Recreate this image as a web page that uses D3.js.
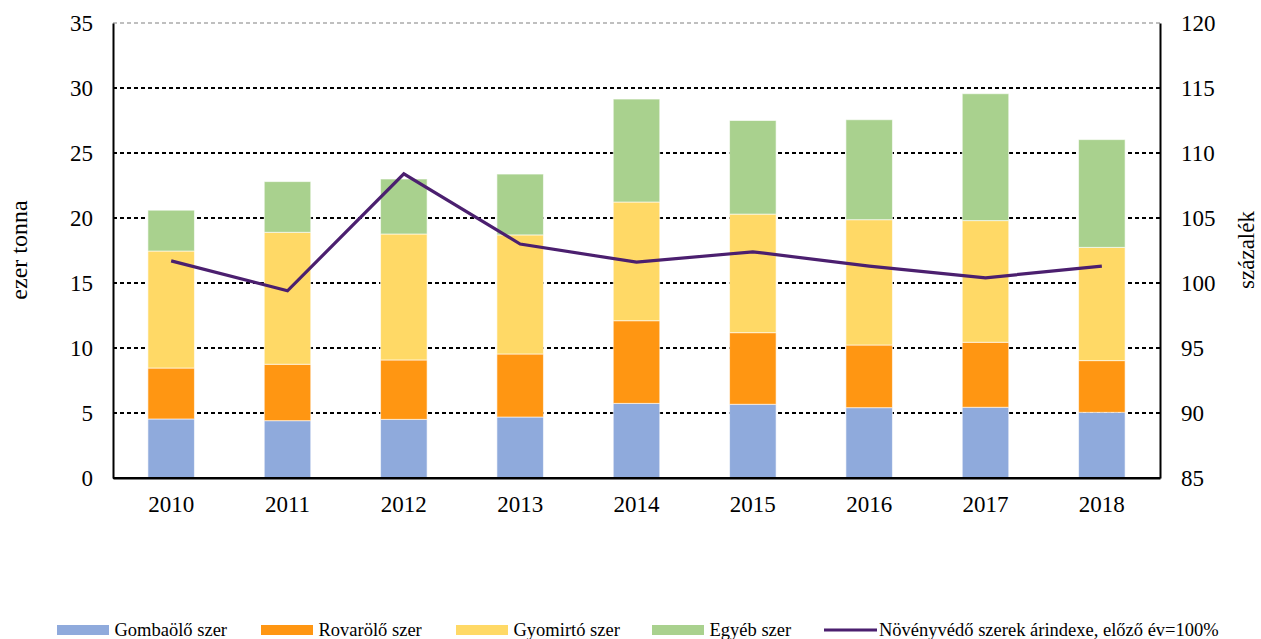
<!DOCTYPE html>
<html><head><meta charset="utf-8">
<script src="https://cdn.jsdelivr.net/npm/d3@7"></script>
<style>body{margin:0;background:#fff;}</style>
</head><body><svg id="c" width="1261" height="639" font-family="Liberation Serif, DejaVu Serif, serif"></svg>
<script>
const years = ["2010","2011","2012","2013","2014","2015","2016","2017","2018"];
const gomba = [4.54,4.41,4.51,4.69,5.74,5.67,5.41,5.44,5.05];
const rovar = [3.92,4.34,4.57,4.85,6.36,5.51,4.82,5.00,3.98];
const gyom  = [9.00,10.15,9.69,9.16,9.13,9.12,9.64,9.36,8.71];
const egyeb = [3.14,3.90,4.23,4.68,7.92,7.20,7.69,9.76,8.29];
const arindex = [101.7,99.4,108.4,103.0,101.6,102.4,101.3,100.4,101.3];
const leftTicks = [0,5,10,15,20,25,30,35];
const rightTicks = [85,90,95,100,105,110,115,120];
const seriesNames = ["Gombaölő szer","Rovarölő szer","Gyomirtó szer","Egyéb szer"];
const lineName = "Növényvédő szerek árindexe, előző év=100%";
const colors = ["#8FAADC","#FF9612","#FFD966","#A9D18E"];
const lineColor = "#4B1F6F";

const FONT = "Liberation Serif, DejaVu Serif, serif";
const svg = d3.select("#c");
const L=113, R=1160, T=23, B=478;
const x = d3.scaleBand().domain(years).range([L,R]).paddingInner(0.6).paddingOuter(0.3);
const y = d3.scaleLinear().domain([0,35]).range([B,T]);
const y2 = d3.scaleLinear().domain([85,120]).range([B,T]);

// gridlines
svg.append("g").selectAll("line").data(leftTicks.filter(d=>d>0)).join("line")
  .attr("x1",L).attr("x2",R).attr("y1",d=>y(d)).attr("y2",d=>y(d))
  .attr("stroke",d=>d===35?"#BFBFBF":"#000").attr("stroke-width",2)
  .attr("stroke-dasharray","4,3");

// stacked bars
const rows = years.map((yr,i)=>({year:yr,s0:gomba[i],s1:rovar[i],s2:gyom[i],s3:egyeb[i]}));
const stack = d3.stack().keys(["s0","s1","s2","s3"])(rows);
svg.append("g").selectAll("g").data(stack).join("g").attr("fill",(d,i)=>colors[i])
  .selectAll("rect").data(d=>d).join("rect")
  .attr("x",d=>x(d.data.year)).attr("width",x.bandwidth())
  .attr("y",d=>y(d[1])).attr("height",d=>y(d[0])-y(d[1]))
  .attr("stroke","#fff").attr("stroke-opacity",0.6).attr("stroke-width",1);

// line
const line = d3.line().x((d,i)=>x(years[i])+x.bandwidth()/2).y(d=>y2(d));
svg.append("path").datum(arindex).attr("d",line).attr("fill","none")
  .attr("stroke",lineColor).attr("stroke-width",3.2).attr("stroke-linejoin","miter");

// axes
const axL = svg.append("g").attr("transform",`translate(${L},0)`)
  .call(d3.axisLeft(y).tickValues(leftTicks).tickSize(0).tickPadding(20));
const axR = svg.append("g").attr("transform",`translate(${R},0)`)
  .call(d3.axisRight(y2).tickValues(rightTicks).tickSize(0).tickPadding(21));
const axB = svg.append("g").attr("transform",`translate(0,${B})`)
  .call(d3.axisBottom(x).tickSize(0).tickPadding(18));
[axL,axR,axB].forEach(a=>{
  a.attr("font-family",FONT).attr("font-size",23);
  a.selectAll("text").attr("fill","#000");
  a.select(".domain").attr("stroke","#000").attr("stroke-width",2);
});
svg.append("line").attr("x1",L).attr("x2",R).attr("y1",B).attr("y2",B).attr("stroke","#000").attr("stroke-width",2);

// axis titles
svg.append("text").attr("transform",`translate(27,250) rotate(-90)`)
  .attr("text-anchor","middle").attr("font-family",FONT).attr("font-size",24).text("ezer tonna");
svg.append("text").attr("transform",`translate(1254,250) rotate(-90)`)
  .attr("text-anchor","middle").attr("font-family",FONT).attr("font-size",23).text("százalék");

// legend
const legX = [57,261,456,652];
const lg = svg.append("g").attr("font-family",FONT).attr("font-size",18.5);
seriesNames.forEach((n,i)=>{
  lg.append("rect").attr("x",legX[i]).attr("y",625).attr("width",52).attr("height",10).attr("fill",colors[i]);
  lg.append("text").attr("x",legX[i]+57.5).attr("y",635.5).text(n);
});
lg.append("line").attr("x1",824).attr("x2",877).attr("y1",630).attr("y2",630).attr("stroke",lineColor).attr("stroke-width",3);
lg.append("text").attr("x",879).attr("y",635.5).text(lineName);
</script></body></html>
